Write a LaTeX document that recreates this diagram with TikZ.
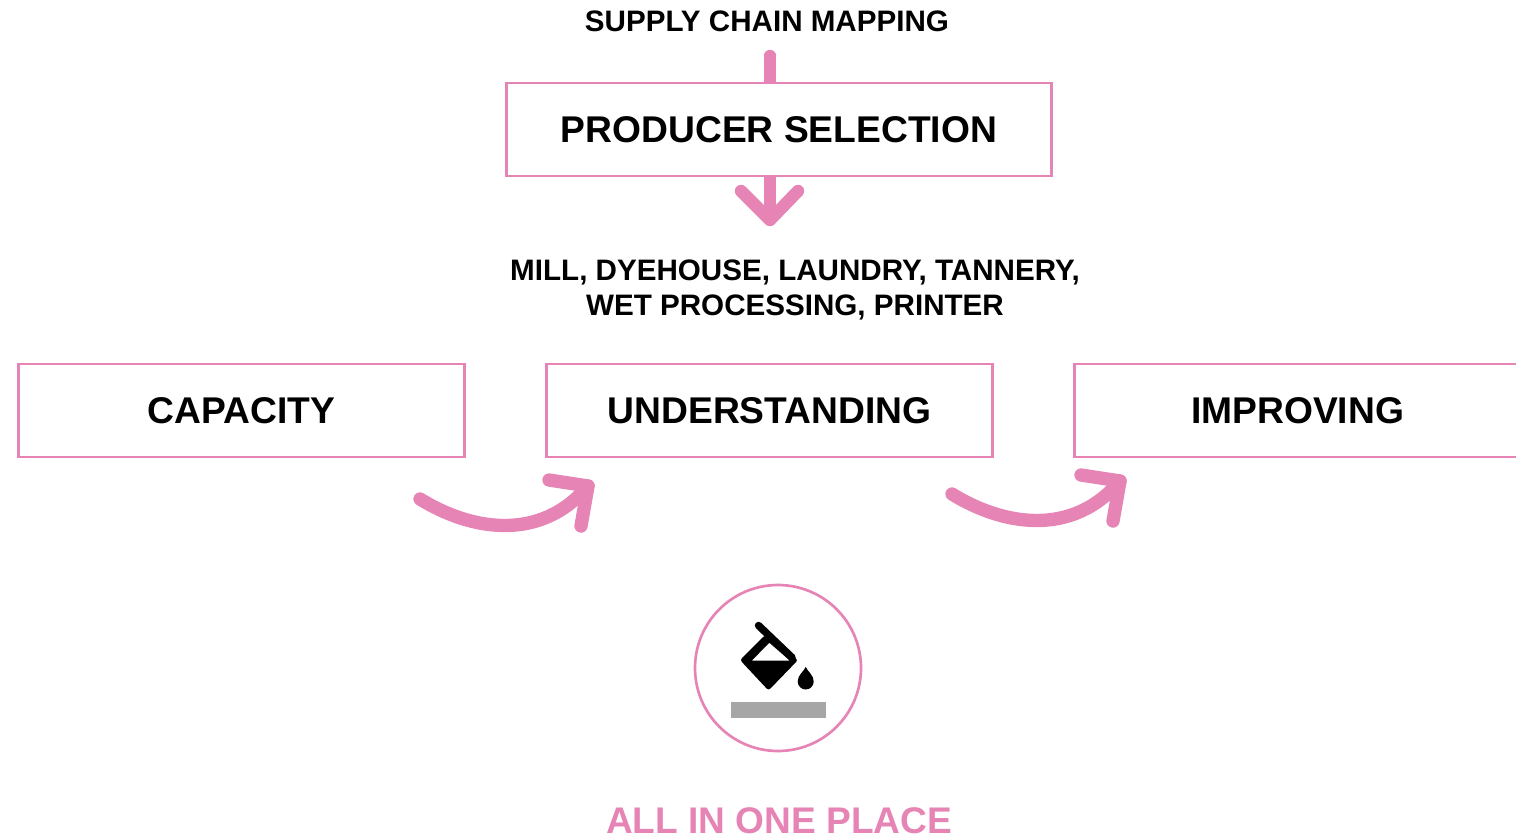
\documentclass[tikz,border=0pt]{standalone}
\usepackage{fontspec}
\setmainfont{Liberation Sans}
\definecolor{rosepink}{HTML}{E685B5}
\definecolor{bargray}{HTML}{A6A6A6}
\begin{document}
\begin{tikzpicture}
[x=0.75pt,y=-0.75pt,
  boxdecorate/.style={shape=rectangle,draw=rosepink,line width=1.9pt,
    minimum width=334.5pt,minimum height=69.5pt,inner sep=0pt,
    font=\bfseries\fontsize{27.9}{34}\selectfont},%
  labeldecorate/.style={align=center,inner sep=0pt,
    font=\bfseries\fontsize{22.2}{26.2}\selectfont},%
  linedecorate/.style={-,draw=rosepink,line width=9.3pt,line cap=round,line join=round}]
\useasboundingbox (0,0) rectangle (1516,838);
%% nodes or boxes
\node (producer) at (779,129.5) [boxdecorate,minimum width=409pt] {PRODUCER SELECTION};
\foreach \nodename/\x/\nodetext in {
  capacity/241.5/CAPACITY, understanding/769.5/UNDERSTANDING, improving/1297.5/IMPROVING} {
  \node (\nodename) at (\x,410.5) [boxdecorate] {\nodetext};
}
%% text labels
\node (mapping) at (767,21) [labeldecorate] {SUPPLY CHAIN MAPPING};
\node (processes) at (795,289.5) [labeldecorate] {MILL, DYEHOUSE, LAUNDRY, TANNERY,\\WET PROCESSING, PRINTER};
\node (place) at (779,820.5) [labeldecorate,text=rosepink,font=\bfseries\fontsize{27.8}{32}\selectfont] {ALL IN ONE PLACE};
%% straight arrows
\coordinate (stubtop) at (770,56);
\coordinate (downtip) at (770,220);
\draw[linedecorate,line cap=butt] (stubtop |- producer.north) -- (stubtop);
\fill[rosepink] (stubtop) circle (4.65pt);
\draw[linedecorate,line cap=butt] (downtip |- producer.south) -- (downtip);
\draw[linedecorate] (741,191) -- (downtip) -- (798,191);
%% curved arrows
\foreach \arrowname/\dx/\dy in {left/0/0, right/532/-5} {
  \coordinate (\arrowname start) at (420+\dx,499+\dy);
  \coordinate (\arrowname tip) at (588+\dx,486+\dy);
  \draw[linedecorate,line width=10pt] (\arrowname start) .. controls (470+\dx,530+\dy) and (540+\dx,543+\dy) .. (\arrowname tip);
  \draw[linedecorate,line width=10pt] (549+\dx,480+\dy) -- (\arrowname tip) -- (581+\dx,526+\dy);
}
%% paint icon
\node (iconring) at (778,668) [shape=circle,draw=rosepink,line width=2pt,minimum size=124.5pt,inner sep=0pt] {};
\fill[even odd rule]
  [rounded corners=2pt] (740,660) -- (765,635) -- (798,660) -- (768.5,690.5) -- cycle
  [sharp corners] (751.7,660.7) -- (790,660.7) -- (769.3,642.7) -- cycle;
\draw[black,line width=5.6pt,line cap=round] (758.5,625.5) -- (792,657.5);
\fill (805.7,667) .. controls (808,672) and (813.7,675) .. (813.7,681.5)
  arc (0:180:8) .. controls (797.7,675) and (803.4,672) .. cycle;
\fill[bargray] (731,701.7) rectangle (826,717.7);
\end{tikzpicture}
\end{document}
